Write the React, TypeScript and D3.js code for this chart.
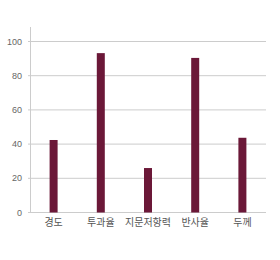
import React from "react";
import * as d3 from "d3";

const categories = ["경도", "투과율", "지문저항력", "반사율", "두께"];
const values = [42.4, 93.2, 26, 90.4, 43.7];
const yTicks = [0, 20, 40, 60, 80, 100];

const W = 280;
const H = 260;
const left = 30;
const right = 266;
const top = 27;
const bottom = 212.5;

export default function App() {
  const y = d3.scaleLinear().domain([0, 100]).range([bottom, 41.5]);
  const x = d3.scaleBand<string>().domain(categories).range([left, right]).padding(0);
  const barW = 8;
  const font = "Helvetica, Arial, 'Liberation Sans', 'Noto Sans CJK KR', sans-serif";
  return (
    <svg width={W} height={H} style={{ position: "absolute", left: 0, top: 0 }}>
      <rect width={W} height={H} fill="#fff" />
      {yTicks.map((t) => (
        <g key={t}>
          <line x1={left - 2} x2={right} y1={y(t)} y2={y(t)} stroke="#cccccc" strokeWidth={1} />
          <text x={22} y={y(t)} dy="0.35em" textAnchor="end" fontSize={9} fill="#666" fontFamily={font}>
            {t}
          </text>
        </g>
      ))}
      <line x1={left + 0.5} x2={left + 0.5} y1={top} y2={bottom} stroke="#cccccc" strokeWidth={1} />
      {categories.map((c, i) => (
        <rect
          key={c}
          x={(x(c) as number) + x.bandwidth() / 2 - barW / 2}
          y={y(values[i])}
          width={barW}
          height={bottom - y(values[i])}
          fill="#6b1838"
        />
      ))}
      {categories.map((c) => (
        <text
          key={c}
          x={(x(c) as number) + x.bandwidth() / 2}
          y={226}
          textAnchor="middle"
          fontSize={10}
          fill="#555"
          fontFamily={font}
        >
          {c}
        </text>
      ))}
    </svg>
  );
}
